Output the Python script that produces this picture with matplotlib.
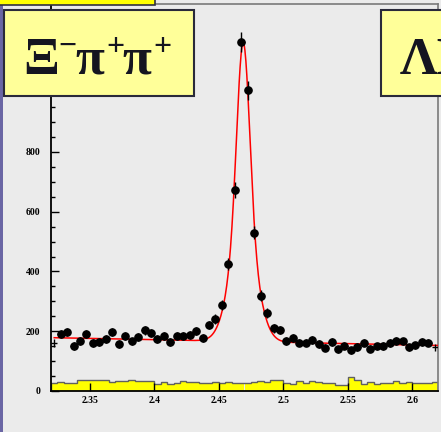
import numpy as np
import matplotlib
matplotlib.use('Agg')
import matplotlib.pyplot as plt
from matplotlib.patches import Rectangle

# Xi_c+ -> Xi- pi+ pi+ invariant mass, bins of 5 MeV from 2.32 to 2.62 GeV
MASS_LO = 2.32
BIN_W = 0.005
signal_counts = [161, 190, 198, 151, 167, 190, 160, 164, 175, 197,
                 157, 184, 166, 180, 203, 194, 174, 183, 164, 185,
                 184, 186, 201, 177, 221, 241, 288, 425, 673, 1167,
                 1007, 530, 319, 260, 210, 204, 167, 178, 162, 162,
                 170, 157, 145, 163, 140, 152, 137, 147, 162, 141,
                 150, 151, 160, 168, 166, 146, 153, 163, 162, 146]
sideband_counts = [26, 30, 28, 28, 36, 37, 37, 38, 38, 30,
                   34, 32, 38, 32, 32, 32, 24, 31, 24, 27,
                   33, 30, 29, 27, 26, 30, 28, 30, 28, 26,
                   28, 30, 33, 30, 38, 37, 27, 23, 32, 27,
                   32, 31, 28, 26, 21, 19, 46, 36, 23, 31,
                   23, 26, 28, 33, 27, 30, 28, 26, 26, 30]

# fit: two gaussians on a linear background
FIT_MEAN = 2.469
FIT_AMP = [626, 374]
FIT_SIGMA = [0.0049, 0.010]
FIT_BKG = [165.5, -87.0]

BG = '#EBEBEB'
YELLOW = '#FFFF00'
PALE_YELLOW = '#FFFF99'
PURPLE = '#6A66A4'
FRAME = '#7A7A7A'
INK = '#151520'
SERIF = ['Liberation Serif', 'DejaVu Serif']


def fit_curve(m):
    t = m - 2.47
    y = FIT_BKG[0] + FIT_BKG[1] * t
    for a, s in zip(FIT_AMP, FIT_SIGMA):
        y = y + a * np.exp(-0.5 * ((m - FIT_MEAN) / s) ** 2)
    return y


n = len(signal_counts)
edges = MASS_LO + BIN_W * np.arange(n + 1)
centers = edges[:-1] + BIN_W / 2
counts = np.array(signal_counts, dtype=float)
side = np.array(sideband_counts, dtype=float)

fig = plt.figure(figsize=(4.41, 4.32), dpi=100, facecolor=BG)
ax = fig.add_axes([51 / 441, 41 / 432, 387 / 441, 387 / 432])
ax.set_facecolor(BG)

# sideband histogram
ax.bar(centers, side, width=BIN_W, color=YELLOW, edgecolor='none', zorder=1)
ax.stairs(side, edges, color='#606060', linewidth=1.0, baseline=0, zorder=1.2)

# fit
mm = np.linspace(centers[0], edges[-1], 800)
ax.plot(mm, fit_curve(mm), color='red', linewidth=1.1, zorder=3)

# data points (edge bins show only their error bars)
inner = slice(1, n - 1)
ax.errorbar(centers[inner], counts[inner], yerr=np.sqrt(counts[inner]),
            xerr=BIN_W / 2, fmt='o', color='black', ms=5.2,
            elinewidth=1.0, capsize=0, zorder=4)
for i in (0, n - 1):
    ax.errorbar(centers[i], counts[i], yerr=np.sqrt(counts[i]), xerr=BIN_W / 2,
                fmt='none', ecolor='black', elinewidth=1.0, capsize=0, zorder=4)

ax.set_xlim(MASS_LO, edges[-1])
ax.set_ylim(0, 1295)
ax.set_xticks([2.35, 2.4, 2.45, 2.5, 2.55, 2.6])
ax.set_xticklabels(['2.35', '2.4', '2.45', '2.5', '2.55', '2.6'])
ax.set_yticks([0, 200, 400, 600, 800, 1000, 1200])
ax.set_yticks(np.arange(0, 1295, 50), minor=True)
ax.tick_params(axis='both', which='major', direction='in', length=5.8,
               width=1.0, color='black', labelsize=7)
ax.tick_params(axis='y', which='minor', direction='in', length=2.9, width=1.0)
ax.tick_params(axis='y', pad=7.5)
ax.tick_params(axis='x', pad=3.5)
for lab in ax.get_xticklabels() + ax.get_yticklabels():
    lab.set_fontfamily('Liberation Serif')
    lab.set_fontweight('bold')

ax.spines['left'].set_linewidth(1.3)
ax.spines['bottom'].set_linewidth(1.3)
for s in ('top', 'right'):
    ax.spines[s].set_color(FRAME)
    ax.spines[s].set_linewidth(1.2)

# slide decoration
W, H = 441.0, 432.0


def px_rect(x0, y0, x1, y1, **kw):
    r = Rectangle((x0 / W, 1 - y1 / H), (x1 - x0) / W, (y1 - y0) / H,
                  transform=fig.transFigure, **kw)
    fig.add_artist(r)


def px_text(x, y, s, size, **kw):
    fig.text(x / W, 1 - y / H, s, fontsize=size, family=SERIF,
             fontweight='bold', color=INK, zorder=11, **kw)


px_rect(0, 0, 3, 432, facecolor=PURPLE, edgecolor='none', zorder=10)
px_rect(-2, -2, 155, 5, facecolor=YELLOW, edgecolor='#303040', linewidth=1.2, zorder=10)
px_rect(3.5, 10, 194, 96, facecolor=PALE_YELLOW, edgecolor='#2A2A3A', linewidth=1.5, zorder=10)
px_rect(381, 10, 450, 96, facecolor=PALE_YELLOW, edgecolor='#2A2A3A', linewidth=1.5, zorder=10)

# channel label  Xi- pi+ pi+
px_text(23, 74, 'Ξ', 38, ha='left', va='baseline')
px_text(58, 47.5, '−', 23, ha='left', va='center')
px_text(75, 74, 'π', 38, ha='left', va='baseline')
px_text(106, 48, '+', 23, ha='left', va='center')
px_text(122, 74, 'π', 38, ha='left', va='baseline')
px_text(153, 48, '+', 23, ha='left', va='center')

# second channel label, cut by the slide edge
px_text(400, 74, 'ΛK', 38, ha='left', va='baseline')

fig.savefig('out.png', dpi=100, facecolor=BG)
